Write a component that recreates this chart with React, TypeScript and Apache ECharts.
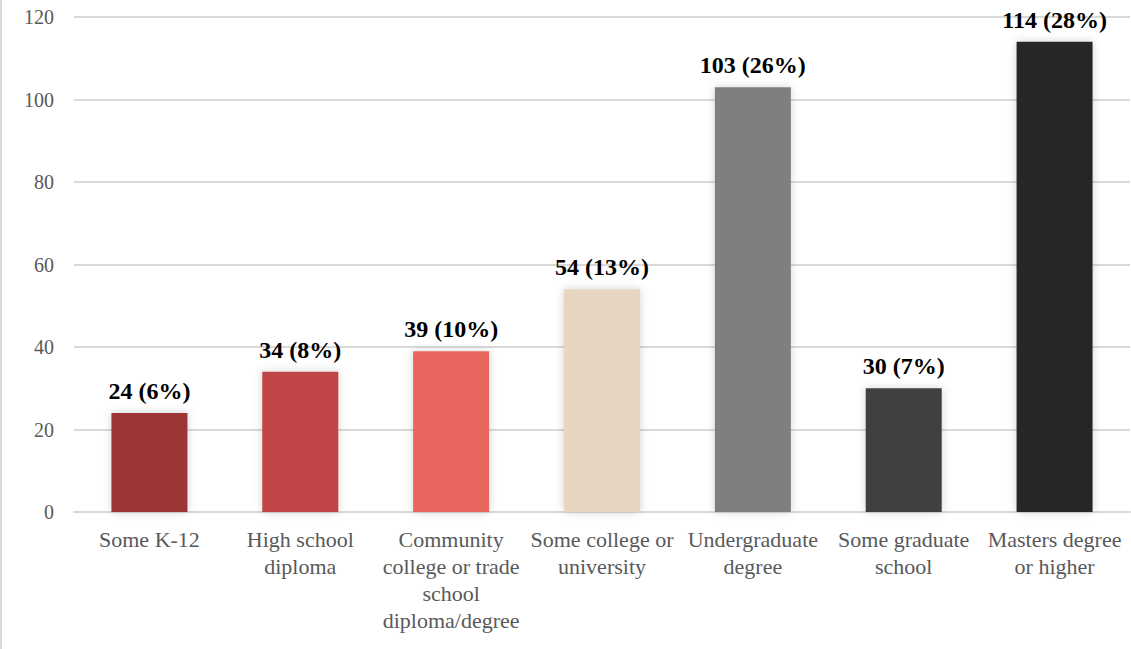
import React, { useEffect, useRef } from "react";
import * as echarts from "echarts";

const categories = [
  "Some K-12",
  "High school\ndiploma",
  "Community\ncollege or trade\nschool\ndiploma/degree",
  "Some college or\nuniversity",
  "Undergraduate\ndegree",
  "Some graduate\nschool",
  "Masters degree\nor higher",
];
const counts = [24, 34, 39, 54, 103, 30, 114];
const percents = [6, 8, 10, 13, 26, 7, 28];
const barColors = ["#9E3436", "#C04446", "#E8665D", "#E6D5C0", "#7F7F7F", "#404040", "#262626"];

const serif = "'Liberation Serif', 'DejaVu Serif', serif";

export default function App() {
  const ref = useRef<HTMLDivElement>(null);

  useEffect(() => {
    document.body.style.margin = "0";
    const chart = echarts.init(ref.current!, null, { renderer: "svg" });
    chart.setOption({
      animation: false,
      backgroundColor: "#ffffff",
      grid: { left: 72, right: 1, top: 17, bottom: 137 },
      xAxis: {
        type: "category",
        data: categories,
        axisLine: { lineStyle: { color: "#d9d9d9", width: 2 } },
        axisTick: { show: false },
        axisLabel: {
          interval: 0,
          color: "#595959",
          fontFamily: serif,
          fontSize: 22,
          lineHeight: 27,
          margin: 14,
        },
      },
      yAxis: {
        type: "value",
        min: 0,
        max: 120,
        interval: 20,
        axisLine: { show: false },
        axisTick: { show: false },
        splitLine: { lineStyle: { color: "#d9d9d9", width: 2 } },
        axisLabel: {
          color: "#595959",
          fontFamily: serif,
          fontSize: 20,
          margin: 20,
        },
      },
      series: [
        {
          type: "bar",
          barWidth: 76,
          data: counts.map((v, i) => ({
            value: v,
            itemStyle: {
              color: barColors[i],
              shadowBlur: 8,
              shadowColor: "rgba(0,0,0,0.18)",
            },
          })),
          label: {
            show: true,
            position: "top",
            distance: 10,
            color: "#000000",
            fontFamily: serif,
            fontWeight: "bold",
            fontSize: 24,
            formatter: (p: any) => `${counts[p.dataIndex]} (${percents[p.dataIndex]}%)`,
          },
        },
      ],
    });
    return () => chart.dispose();
  }, []);

  return (
    <div
      ref={ref}
      style={{ width: 1131, height: 649, boxSizing: "border-box", borderLeft: "2px solid #d9d9d9" }}
    />
  );
}
